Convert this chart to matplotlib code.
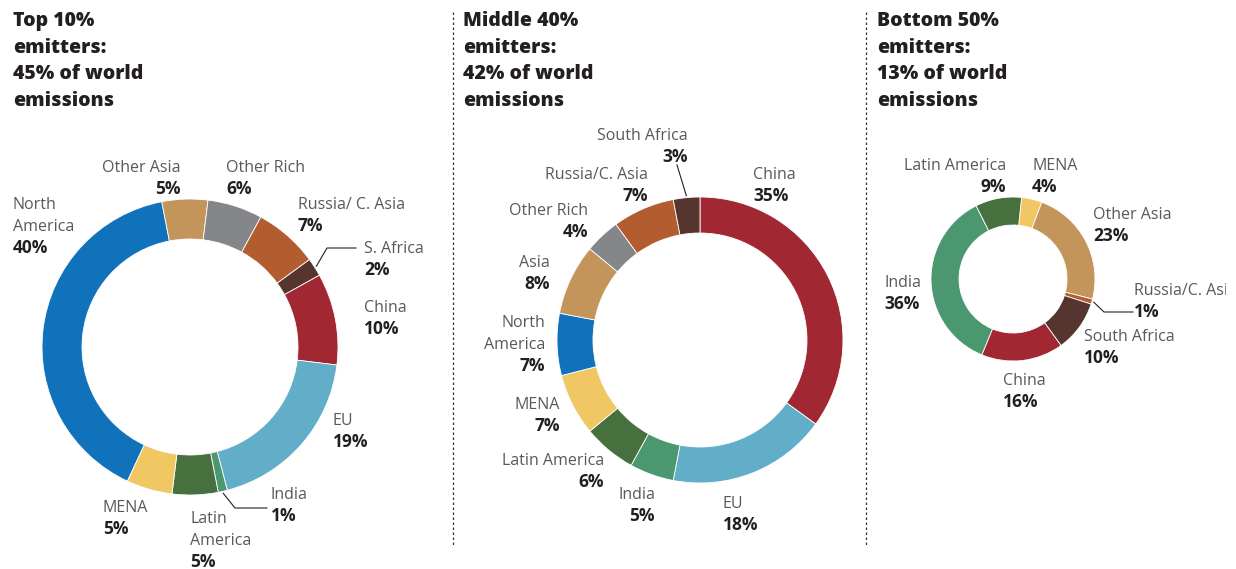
import matplotlib
matplotlib.use("Agg")
import matplotlib.pyplot as plt
from matplotlib.patches import Rectangle
import numpy as np

plt.rcParams['font.family'] = ['Open Sans', 'DejaVu Sans']

W, H = 1236, 569

# ---- data ----
titles = ["Top 10%\nemitters:\n45% of world\nemissions",
          "Middle 40%\nemitters:\n42% of world\nemissions",
          "Bottom 50%\nemitters:\n13% of world\nemissions"]

top_names = ["North\nAmerica", "Other Asia", "Other Rich", "Russia/ C. Asia", "S. Africa",
             "China", "EU", "India", "Latin\nAmerica", "MENA"]
top_vals = [40, 5, 6, 7, 2, 10, 19, 1, 5, 5]

mid_names = ["China", "EU", "India", "Latin America", "MENA", "North\nAmerica",
             "Asia", "Other Rich", "Russia/C. Asia", "South Africa"]
mid_vals = [35, 18, 5, 6, 7, 7, 8, 4, 7, 3]

bot_names = ["MENA", "Other Asia", "Russia/C. Asia", "South Africa", "China", "India",
             "Latin America"]
bot_vals = [4, 23, 1, 10, 16, 36, 9]

# ---- styles ----
col = {"North America": "#1172bc", "Other Asia": "#c4955a", "Asia": "#c4955a",
       "Other Rich": "#848689", "Russia": "#b35c30", "Africa": "#55352d",
       "China": "#a12732", "EU": "#62aec9", "India": "#4a9770",
       "Latin America": "#48703e", "MENA": "#f0c762"}


def color_for(name):
    n = name.replace("\n", " ")
    if n in col:
        return col[n]
    if "Russia" in n:
        return col["Russia"]
    if "Africa" in n:
        return col["Africa"]
    return "#999999"


# pie geometry in pixels (y measured from top)
pies = [
    dict(names=top_names, vals=top_vals, c=(190, 347), r=148, w=40, start=-115),
    dict(names=mid_names, vals=mid_vals, c=(700, 340), r=143, w=36, start=90),
    dict(names=bot_names, vals=bot_vals, c=(1013, 279), r=82, w=28, start=84),
]

# label anchors: (x, first baseline y, ha) in pixels from top
label_pos = [
    [(13, 209, "left"), (181, 172, "right"), (226, 172, "left"), (298, 209, "left"),
     (364, 253, "left"), (364, 312, "left"), (333, 425, "left"), (271, 499, "left"),
     (190, 523, "left"), (103, 512, "left")],
    [(753, 179, "left"), (723, 508, "left"), (655, 499, "right"), (604, 465, "right"),
     (560, 409, "right"), (545, 327, "right"), (550, 267, "right"), (588, 215, "right"),
     (648, 179, "right"), (688, 140, "right")],
    [(1032, 170, "left"), (1093, 219, "left"), (1134, 295, "left"), (1084, 341, "left"),
     (1003, 385, "left"), (884, 287, "left"), (1006, 170, "right")],
]

# leader lines: (chart, slice) -> polyline tail points (pixels from top)
leaders = {
    (0, 4): [(327, 248), (356, 248)],
    (0, 7): [(235, 508), (267, 508)],
    (1, 9): [(677, 165)],
    (2, 2): [(1104, 312), (1133, 312)],
}

title_x = [13, 463, 877]
title_y = 26
LH = 22
TLH = 26.7

fig = plt.figure(figsize=(W / 100, H / 100), dpi=100)
ax = fig.add_axes([0, 0, 1, 1])
clip = Rectangle((0, 0), 1226, H, transform=ax.transData, visible=False)
ax.add_patch(clip)

for i, p in enumerate(pies):
    cx, cy = p["c"]
    colors = [color_for(n) for n in p["names"]]
    wedges, _ = ax.pie(p["vals"], colors=colors, startangle=p["start"], counterclock=False,
                       center=(cx, H - cy), radius=p["r"], frame=True,
                       wedgeprops=dict(width=p["w"], edgecolor="white", linewidth=0.6))
    for j, name in enumerate(p["names"]):
        x, y, ha = label_pos[i][j]
        lines = name.split("\n")
        for k, ln in enumerate(lines):
            t = ax.text(x, H - (y + k * LH), ln, ha=ha, va="baseline", fontsize=11.5,
                        color="#58595b", clip_on=True)
            t.set_clip_path(clip)
        ax.text(x, H - (y + len(lines) * LH), "%d%%" % p["vals"][j], ha=ha, va="baseline",
                fontsize=12.5, fontweight="bold", color="#231f20")
        if (i, j) in leaders:
            w = wedges[j]
            mid = np.deg2rad((w.theta1 + w.theta2) / 2)
            sx = cx + (p["r"] + 2) * np.cos(mid)
            sy = H - cy + (p["r"] + 2) * np.sin(mid)
            pts = [(sx, sy)] + [(a, H - b) for a, b in leaders[(i, j)]]
            ax.plot([q[0] for q in pts], [q[1] for q in pts], color="#231f20", lw=0.8)
    for k, t in enumerate(titles[i].split("\n")):
        ax.text(title_x[i], H - (title_y + k * TLH), t, fontsize=14,
                fontweight="heavy", color="#231f20", va="baseline")

# dotted separators
for sx in [453, 866]:
    ax.plot([sx, sx], [H - 12, H - 545], color="#333333", lw=0.9, ls=(0, (2, 2)))

ax.set_xlim(0, W)
ax.set_ylim(0, H)
ax.set_aspect("equal")
ax.axis("off")

fig.savefig("out.png", dpi=100)
